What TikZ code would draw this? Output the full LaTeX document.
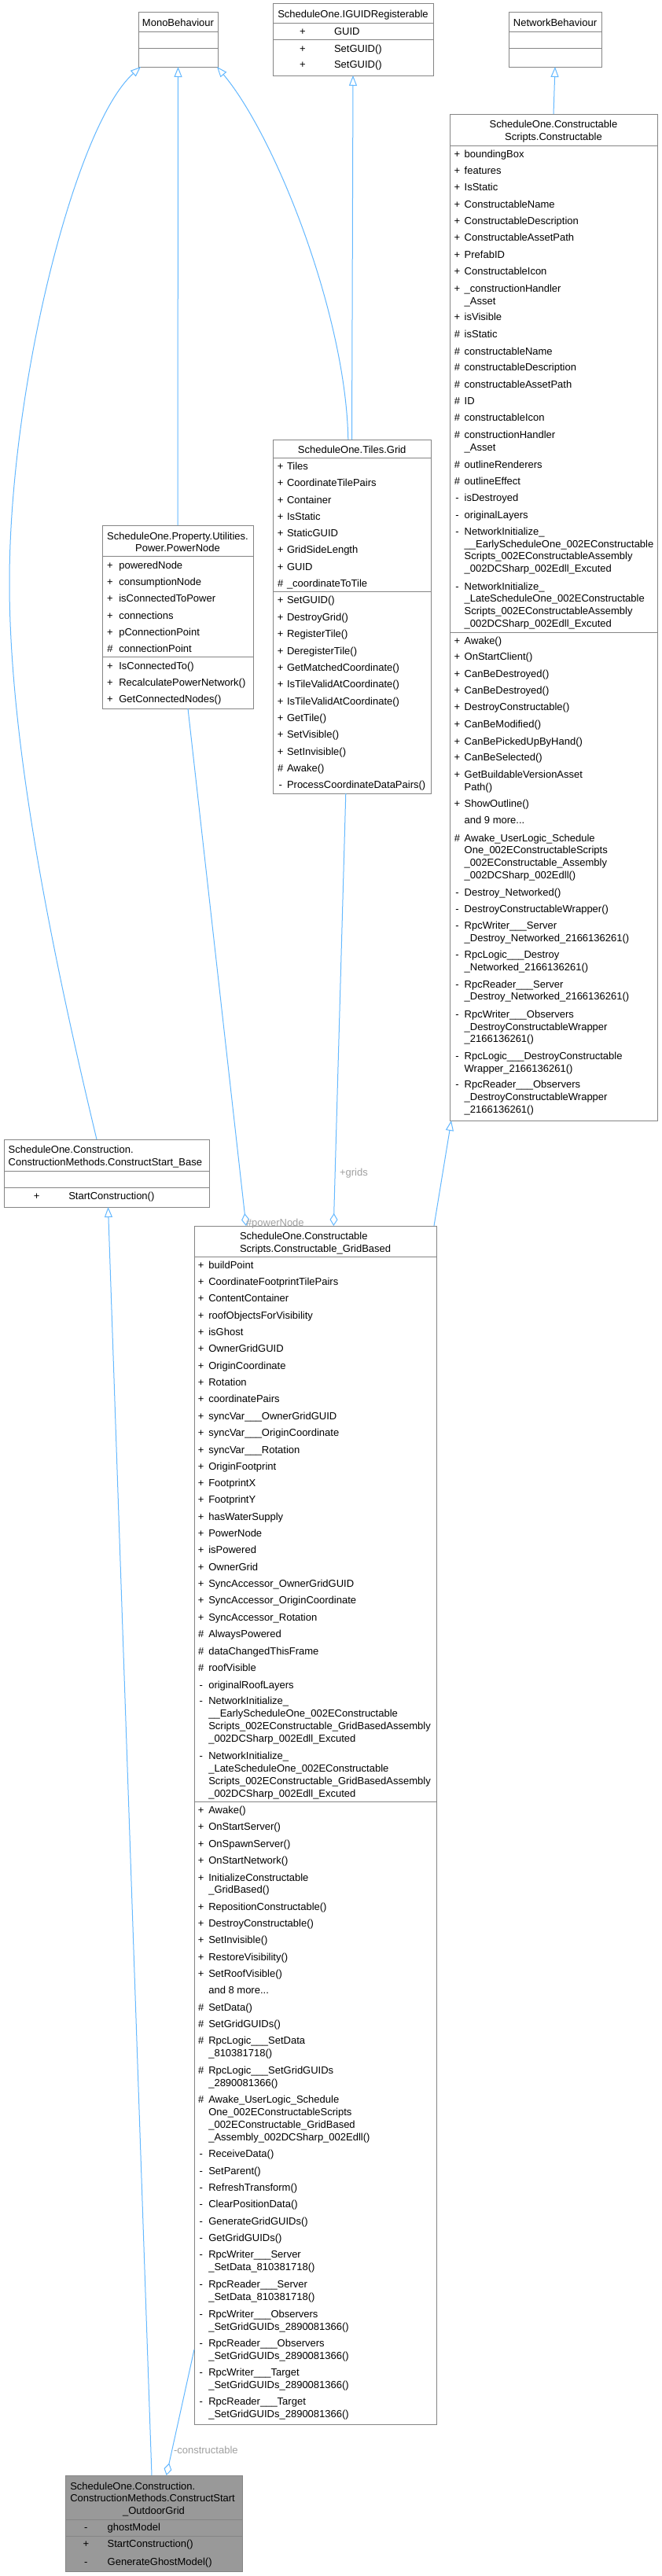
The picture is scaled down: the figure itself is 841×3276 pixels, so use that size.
\documentclass[tikz,border=0pt]{standalone}
\usepackage{fontspec}
\setmainfont{Liberation Sans}
\usetikzlibrary{arrows.meta}
\definecolor{edgecol}{HTML}{63B8FF}
\definecolor{bordcol}{HTML}{858585}
\definecolor{lblcol}{HTML}{A0A0A0}
\definecolor{hlcol}{HTML}{999999}
\newcount\tcnt
\newcommand\TL[3]{\global\advance\tcnt by 1\relax
  \edef\tmpnode{\noexpand\node[txt,anchor=base west] (t\the\tcnt) at (#1,#2+4.6)}\tmpnode{#3};}
\newcommand\TM[3]{\global\advance\tcnt by 1\relax
  \edef\tmpnode{\noexpand\node[txt,anchor=base] (t\the\tcnt) at (#1,#2+4.6)}\tmpnode{#3};}
\newcommand\MR[5]{\TM{#1}{#3}{#4}\TL{#2}{#3}{#5}}
\newcommand\BOX[6][]{\node[umlbox,#1,minimum width={#5-#3},minimum height={#6-#4}] (#2) at ({(#3+#5)/2},{(#4+#6)/2}) {};}
\newcommand\SEP[3]{\draw[sepline] (#1,#3) -- (#2,#3);}
% row macros per box
\newcommand\CR[3]{\MR{581.5}{590.7}{#1}{#2}{#3}}
\newcommand\CC[2]{\TL{590.7}{#1}{#2}}
\newcommand\GR[3]{\MR{356.7}{365}{#1}{#2}{#3}}
\newcommand\PR[3]{\MR{140}{151.3}{#1}{#2}{#3}}
\newcommand\BR[3]{\MR{255.7}{265.3}{#1}{#2}{#3}}
\newcommand\BC[2]{\TL{265.3}{#1}{#2}}
\begin{document}
\begin{tikzpicture}[x=1pt,y=-1pt,
  txt/.style={inner sep=0pt,outer sep=0pt,font=\fontsize{13}{16}\selectfont},
  lbl/.style={txt,text=lblcol,anchor=base west},
  umlbox/.style={draw=bordcol,line width=1pt,fill=white,inner sep=0pt,outer sep=0pt},
  sepline/.style={draw=bordcol,line width=1pt},
  inh/.style={draw=edgecol,line width=1pt,-{Triangle[open,length=13pt,width=10pt]}},
  agg/.style={draw=edgecol,line width=1pt,{Diamond[open,length=16pt,width=10pt]}-}]
\fill[white] (0,0) rectangle (841,3276);
\useasboundingbox (0,0) rectangle (841,3276);

% ---------- MonoBehaviour
\BOX{mono}{176}{16}{277}{85}
\SEP{176}{277}{40.3}\SEP{176}{277}{61.3}
\TM{226.5}{29}{MonoBehaviour}

% ---------- IGUIDRegisterable
\BOX{iguid}{347}{5}{551}{96}
\SEP{347}{551}{29.3}\SEP{347}{551}{51}
\TM{449}{18.3}{ScheduleOne.IGUIDRegisterable}
\MR{385}{425}{39.7}{+}{GUID}
\MR{385}{425}{61.7}{+}{SetGUID()}
\MR{385}{425}{82.3}{+}{SetGUID()}

% ---------- NetworkBehaviour
\BOX{netb}{647}{16}{765}{85}
\SEP{647}{765}{40.3}\SEP{647}{765}{61.3}
\TM{706}{29}{NetworkBehaviour}

% ---------- Constructable
\BOX{cons}{572}{145}{836}{1425}
\TM{704}{158.3}{ScheduleOne.Constructable}
\TM{704}{174.3}{Scripts.Constructable}
\SEP{572}{836}{185}\SEP{572}{836}{804}
\CR{195.7}{+}{boundingBox}
\CR{217.3}{+}{features}
\CR{238.3}{+}{IsStatic}
\CR{259.7}{+}{ConstructableName}
\CR{281.3}{+}{ConstructableDescription}
\CR{302.3}{+}{ConstructableAssetPath}
\CR{323.7}{+}{PrefabID}
\CR{345.3}{+}{ConstructableIcon}
\CR{366.7}{+}{\_constructionHandler}\CC{382.7}{\_Asset}
\CR{403.3}{+}{isVisible}
\CR{425}{\#}{isStatic}
\CR{446.7}{\#}{constructableName}
\CR{467.3}{\#}{constructableDescription}
\CR{489.3}{\#}{constructableAssetPath}
\CR{510}{\#}{ID}
\CR{531.3}{\#}{constructableIcon}
\CR{553.3}{\#}{constructionHandler}\CC{569.3}{\_Asset}
\CR{590.7}{\#}{outlineRenderers}
\CR{611.7}{\#}{outlineEffect}
\CR{633}{-}{isDestroyed}
\CR{655}{-}{originalLayers}
\CR{675.7}{-}{NetworkInitialize\_}\CC{691.7}{\_\_EarlyScheduleOne\_002EConstructable}\CC{707.3}{Scripts\_002EConstructableAssembly}\CC{723.3}{\_002DCSharp\_002Edll\_Excuted}
\CR{746}{-}{NetworkInitialize\_}\CC{761.3}{\_LateScheduleOne\_002EConstructable}\CC{777.3}{Scripts\_002EConstructableAssembly}\CC{793.3}{\_002DCSharp\_002Edll\_Excuted}
\CR{814.7}{+}{Awake()}
\CR{835.3}{+}{OnStartClient()}
\CR{857.3}{+}{CanBeDestroyed()}
\CR{878.3}{+}{CanBeDestroyed()}
\CR{899}{+}{DestroyConstructable()}
\CR{921.3}{+}{CanBeModified()}
\CR{942.7}{+}{CanBePickedUpByHand()}
\CR{963.3}{+}{CanBeSelected()}
\CR{985.3}{+}{GetBuildableVersionAsset}\CC{1001.3}{Path()}
\CR{1022.3}{+}{ShowOutline()}
\CC{1043.3}{and 9 more...}
\CR{1065.7}{\#}{Awake\_UserLogic\_Schedule}\CC{1081.3}{One\_002EConstructableScripts}\CC{1097.3}{\_002EConstructable\_Assembly}\CC{1113.3}{\_002DCSharp\_002Edll()}
\CR{1135}{-}{Destroy\_Networked()}
\CR{1155.7}{-}{DestroyConstructableWrapper()}
\CR{1177.3}{-}{RpcWriter\_\_\_Server}\CC{1193.3}{\_Destroy\_Networked\_2166136261()}
\CR{1214.3}{-}{RpcLogic\_\_\_Destroy}\CC{1230.3}{\_Networked\_2166136261()}
\CR{1251.7}{-}{RpcReader\_\_\_Server}\CC{1267.3}{\_Destroy\_Networked\_2166136261()}
\CR{1289.7}{-}{RpcWriter\_\_\_Observers}\CC{1305.7}{\_DestroyConstructableWrapper}\CC{1321.3}{\_2166136261()}
\CR{1342.7}{-}{RpcLogic\_\_\_DestroyConstructable}\CC{1358.7}{Wrapper\_2166136261()}
\CR{1379.3}{-}{RpcReader\_\_\_Observers}\CC{1395.3}{\_DestroyConstructableWrapper}\CC{1411}{\_2166136261()}

% ---------- Grid
\BOX{grid}{347}{559}{548}{1009}
\TM{447.7}{571.7}{ScheduleOne.Tiles.Grid}
\SEP{347}{548}{582.7}\SEP{347}{548}{752.7}
\GR{593.3}{+}{Tiles}
\GR{614.3}{+}{CoordinateTilePairs}
\GR{635.7}{+}{Container}
\GR{657.3}{+}{IsStatic}
\GR{678}{+}{StaticGUID}
\GR{699.3}{+}{GridSideLength}
\GR{721.3}{+}{GUID}
\GR{742.3}{\#}{\_coordinateToTile}
\GR{763.3}{+}{SetGUID()}
\GR{785.3}{+}{DestroyGrid()}
\GR{806.3}{+}{RegisterTile()}
\GR{827.7}{+}{DeregisterTile()}
\GR{849.3}{+}{GetMatchedCoordinate()}
\GR{870.3}{+}{IsTileValidAtCoordinate()}
\GR{891.7}{+}{IsTileValidAtCoordinate()}
\GR{913.3}{+}{GetTile()}
\GR{934.3}{+}{SetVisible()}
\GR{955.7}{+}{SetInvisible()}
\GR{977.3}{\#}{Awake()}
\GR{998.3}{-}{ProcessCoordinateDataPairs()}

% ---------- PowerNode
\BOX{pnode}{130}{668}{322}{901}
\TM{226}{681.7}{ScheduleOne.Property.Utilities.}
\TM{226}{697.3}{Power.PowerNode}
\SEP{130}{322}{707.7}\SEP{130}{322}{835.7}
\PR{719}{+}{poweredNode}
\PR{740}{+}{consumptionNode}
\PR{761.3}{+}{isConnectedToPower}
\PR{782.7}{+}{connections}
\PR{804}{+}{pConnectionPoint}
\PR{825.3}{\#}{connectionPoint}
\PR{846.7}{+}{IsConnectedTo()}
\PR{867.7}{+}{RecalculatePowerNetwork()}
\PR{889}{+}{GetConnectedNodes()}

% ---------- ConstructStart_Base
\BOX{csb}{5}{1449}{266}{1535}
\TL{10.7}{1462.3}{ScheduleOne.Construction.}
\TL{10.7}{1478.3}{ConstructionMethods.ConstructStart\_Base}
\SEP{5}{266}{1489.3}\SEP{5}{266}{1510.7}
\MR{46.7}{87.3}{1521}{+}{StartConstruction()}

% ---------- Constructable_GridBased
\BOX{gb}{247}{1559}{555}{3083}
\TL{305}{1571.7}{ScheduleOne.Constructable}
\TL{305}{1587.7}{Scripts.Constructable\_GridBased}
\SEP{247}{555}{1598.7}\SEP{247}{555}{2291.7}
\BR{1609.3}{+}{buildPoint}
\BR{1630.3}{+}{CoordinateFootprintTilePairs}
\BR{1651.3}{+}{ContentContainer}
\BR{1673.3}{+}{roofObjectsForVisibility}
\BR{1694.3}{+}{isGhost}
\BR{1715.3}{+}{OwnerGridGUID}
\BR{1737.3}{+}{OriginCoordinate}
\BR{1758.3}{+}{Rotation}
\BR{1779.3}{+}{coordinatePairs}
\BR{1801.3}{+}{syncVar\_\_\_OwnerGridGUID}
\BR{1822.3}{+}{syncVar\_\_\_OriginCoordinate}
\BR{1843.7}{+}{syncVar\_\_\_Rotation}
\BR{1865.3}{+}{OriginFootprint}
\BR{1886.3}{+}{FootprintX}
\BR{1907.3}{+}{FootprintY}
\BR{1929.3}{+}{hasWaterSupply}
\BR{1950.3}{+}{PowerNode}
\BR{1971.3}{+}{isPowered}
\BR{1993}{+}{OwnerGrid}
\BR{2014.3}{+}{SyncAccessor\_OwnerGridGUID}
\BR{2035.3}{+}{SyncAccessor\_OriginCoordinate}
\BR{2057.3}{+}{SyncAccessor\_Rotation}
\BR{2078.3}{\#}{AlwaysPowered}
\BR{2099.7}{\#}{dataChangedThisFrame}
\BR{2121.3}{\#}{roofVisible}
\BR{2142.7}{-}{originalRoofLayers}
\BR{2163.3}{-}{NetworkInitialize\_}\BC{2179.3}{\_\_EarlyScheduleOne\_002EConstructable}\BC{2195.3}{Scripts\_002EConstructable\_GridBasedAssembly}\BC{2211.3}{\_002DCSharp\_002Edll\_Excuted}
\BR{2233.3}{-}{NetworkInitialize\_}\BC{2249.3}{\_LateScheduleOne\_002EConstructable}\BC{2265.3}{Scripts\_002EConstructable\_GridBasedAssembly}\BC{2281.3}{\_002DCSharp\_002Edll\_Excuted}
\BR{2302.3}{+}{Awake()}
\BR{2323.3}{+}{OnStartServer()}
\BR{2345.3}{+}{OnSpawnServer()}
\BR{2366.3}{+}{OnStartNetwork()}
\BR{2388}{+}{InitializeConstructable}\BC{2403.3}{\_GridBased()}
\BR{2425.3}{+}{RepositionConstructable()}
\BR{2446.3}{+}{DestroyConstructable()}
\BR{2467.3}{+}{SetInvisible()}
\BR{2489.3}{+}{RestoreVisibility()}
\BR{2510.3}{+}{SetRoofVisible()}
\BC{2531.3}{and 8 more...}
\BR{2553.3}{\#}{SetData()}
\BR{2574.3}{\#}{SetGridGUIDs()}
\BR{2595.3}{\#}{RpcLogic\_\_\_SetData}\BC{2611.3}{\_810381718()}
\BR{2633.3}{\#}{RpcLogic\_\_\_SetGridGUIDs}\BC{2649.3}{\_2890081366()}
\BR{2670.3}{\#}{Awake\_UserLogic\_Schedule}\BC{2686.3}{One\_002EConstructableScripts}\BC{2702.3}{\_002EConstructable\_GridBased}\BC{2718.3}{\_Assembly\_002DCSharp\_002Edll()}
\BR{2739.3}{-}{ReceiveData()}
\BR{2761.3}{-}{SetParent()}
\BR{2782.3}{-}{RefreshTransform()}
\BR{2803.3}{-}{ClearPositionData()}
\BR{2825.3}{-}{GenerateGridGUIDs()}
\BR{2846.3}{-}{GetGridGUIDs()}
\BR{2867.3}{-}{RpcWriter\_\_\_Server}\BC{2883.3}{\_SetData\_810381718()}
\BR{2905.3}{-}{RpcReader\_\_\_Server}\BC{2921.3}{\_SetData\_810381718()}
\BR{2942.7}{-}{RpcWriter\_\_\_Observers}\BC{2958.7}{\_SetGridGUIDs\_2890081366()}
\BR{2980}{-}{RpcReader\_\_\_Observers}\BC{2996}{\_SetGridGUIDs\_2890081366()}
\BR{3017.3}{-}{RpcWriter\_\_\_Target}\BC{3033.3}{\_SetGridGUIDs\_2890081366()}
\BR{3054.3}{-}{RpcReader\_\_\_Target}\BC{3070.3}{\_SetGridGUIDs\_2890081366()}

% ---------- ConstructStart_OutdoorGrid (highlighted)
\BOX[fill=hlcol]{og}{83}{3148}{308}{3270}
\TL{89.3}{3161.7}{ScheduleOne.Construction.}
\TL{89.3}{3177.3}{ConstructionMethods.ConstructStart}
\TM{195.5}{3193.3}{\_OutdoorGrid}
\SEP{83}{308}{3204}\SEP{83}{308}{3225.3}
\MR{109.3}{136.7}{3214.3}{-}{ghostModel}
\MR{109.3}{136.7}{3235.3}{+}{StartConstruction()}
\MR{109.3}{136.7}{3257.7}{-}{GenerateGhostModel()}

% ---------- connectors
\draw[inh] ([xshift=-12.5pt]csb.north) .. controls (63,1199) and (12,941) .. (12,741)
  .. controls (12,491) and (96,159) .. ([xshift=3pt]mono.south west);
\draw[inh] (pnode.north) -- (mono.south);
\draw[inh] ([xshift=-4.7pt]grid.north) .. controls (440,400) and (350,173) .. ([xshift=-1pt]mono.south east);
\draw[inh] (grid.north) -- (iguid.south);
\draw[inh] (cons.north) -- (netb.south);
\draw[inh] ([xshift=-3pt]gb.north east) -- ([xshift=2pt]cons.south west);
\draw[inh] ([xshift=110pt]og.north west) -- ([xshift=2pt]csb.south);
\draw[agg] ([xshift=66pt]gb.north west) -- ([xshift=13pt]pnode.south)
  node[lbl,pos=0] (lpn) at (315,1495.6) {\#powerNode};
\draw[agg] ([xshift=177.3pt]gb.north west) -- ([xshift=-7.7pt]grid.south);
\node[lbl] (lgr) at (432,1495.6) {+grids};
\draw[agg] ([xshift=128.7pt]og.north west) -- ([yshift=95pt]gb.south west);
\node[lbl] (lco) at (221,3120.6) {-constructable};
\end{tikzpicture}
\end{document}
